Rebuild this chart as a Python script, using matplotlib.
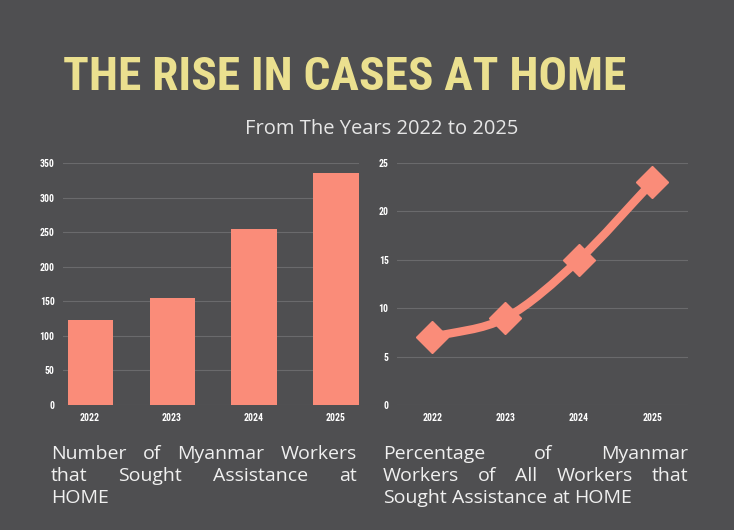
import numpy as np
import matplotlib.pyplot as plt
from matplotlib import font_manager as fm
from matplotlib.path import Path
from matplotlib.patches import PathPatch

# data
years = ['2022', '2023', '2024', '2025']
workers_count = [123, 155, 255, 335]
workers_pct = [7, 9, 15, 23]

bg = '#4f4f51'
salmon = '#fa8c79'
grid_c = '#6a6a6c'

# pick a condensed face for the title / ticks if one is installed
fonts = fm.fontManager.ttflist
names = {f.name for f in fonts}
narrow = None
for cand in ['Liberation Sans Narrow', 'Roboto Condensed', 'Open Sans Condensed',
             'Noto Sans Condensed', 'DejaVu Sans Condensed']:
    if cand in names:
        narrow = dict(fontfamily=cand, fontstretch='normal')
        break
if narrow is None:
    if any(f.name == 'DejaVu Sans' and 'condensed' in str(f.stretch) for f in fonts):
        narrow = dict(fontfamily='DejaVu Sans', fontstretch='condensed')
    else:
        narrow = dict(fontfamily='DejaVu Sans', fontstretch='normal')

fig = plt.figure(figsize=(7.34, 5.30), dpi=100, facecolor=bg)


def style_axes(ax, ymax, step):
    ax.set_facecolor(bg)
    for s in ax.spines.values():
        s.set_visible(False)
    ax.set_ylim(0, ymax)
    ax.set_yticks(np.arange(0, ymax + 1, step))
    ax.yaxis.grid(True, color=grid_c, linewidth=0.8)
    ax.set_axisbelow(True)
    ax.tick_params(length=0, colors='white', labelsize=7, pad=6)
    for lab in ax.get_xticklabels() + ax.get_yticklabels():
        lab.set_fontfamily(narrow['fontfamily'])
        lab.set_fontstretch(narrow['fontstretch'])
        lab.set_fontweight('bold')


# left: bar chart
ax1 = fig.add_axes([63 / 734, 1 - 405 / 530, 296 / 734, 242 / 530])
x = np.arange(len(years))
ax1.bar(x, workers_count, width=0.55, color=salmon, zorder=3)
ax1.set_xticks(x, years)
ax1.set_xlim(-0.33, 3.28)
style_axes(ax1, 350, 50)

# right: smooth line chart
ax2 = fig.add_axes([397 / 734, 1 - 405 / 530, 291 / 734, 242 / 530])
px = np.arange(len(years), dtype=float)
py = np.array(workers_pct, dtype=float)
# Catmull-Rom through the points, as cubic bezier segments
verts = [(px[0], py[0])]
codes = [Path.MOVETO]
ext_x = np.concatenate([[2 * px[0] - px[1]], px, [2 * px[-1] - px[-2]]])
ext_y = np.concatenate([[2 * py[0] - py[1]], py, [2 * py[-1] - py[-2]]])
for i in range(1, len(px)):
    p0 = np.array([ext_x[i - 1], ext_y[i - 1]])
    p1 = np.array([ext_x[i], ext_y[i]])
    p2 = np.array([ext_x[i + 1], ext_y[i + 1]])
    p3 = np.array([ext_x[i + 2], ext_y[i + 2]])
    c1 = p1 + (p2 - p0) / 6
    c2 = p2 - (p3 - p1) / 6
    verts += [tuple(c1), tuple(c2), tuple(p2)]
    codes += [Path.CURVE4] * 3
ax2.add_patch(PathPatch(Path(verts, codes), facecolor='none', edgecolor=salmon,
                        linewidth=6, capstyle='round', joinstyle='round', zorder=3))
ax2.plot(px, py, linestyle='none', marker='D', markersize=16, color=salmon, zorder=4)
ax2.set_xticks(px, years)
ax2.set_xlim(-0.48, 3.49)
style_axes(ax2, 25, 5)

# titles
title = fig.text(63 / 734, 1 - 90 / 530, 'THE RISE IN CASES AT HOME', color='#ebe08f',
                 fontsize=50, fontweight='bold', va='baseline', ha='left', **narrow)
fig.text(382 / 734, 1 - 134 / 530, 'From The Years 2022 to 2025', color='#e6e6e6',
         fontsize=14.5, fontfamily='Open Sans', va='baseline', ha='center')

fig.canvas.draw()
renderer = fig.canvas.get_renderer()
# shrink the title so it spans the same width as in the reference
tw = title.get_window_extent(renderer).width
title.set_fontsize(min(50 * 564 / tw, 58))

# justified captions
captions = [
    (51, 357, [['Number', 'of', 'Myanmar', 'Workers'],
               ['that', 'Sought', 'Assistance', 'at'],
               ['HOME']]),
    (383, 688, [['Percentage', 'of', 'Myanmar'],
                ['Workers', 'of', 'All', 'Workers', 'that'],
                ['Sought', 'Assistance', 'at', 'HOME']]),
]
cap_kw = dict(color='#f0f0f0', fontsize=14, fontfamily='Open Sans', va='baseline', ha='left')
line_y = [459, 481, 503]
for x0, x1, lines in captions:
    for li, words in enumerate(lines):
        y = 1 - line_y[li] / 530
        texts = [fig.text(0, y, w, **cap_kw) for w in words]
        widths = [t.get_window_extent(renderer).width for t in texts]
        last = li == len(lines) - 1
        if last or len(words) == 1:
            gap = 5
        else:
            gap = (x1 - x0 - sum(widths)) / (len(words) - 1)
        cur = x0
        for t, w in zip(texts, widths):
            t.set_x(cur / 734)
            cur += w + gap

fig.savefig('out.png', dpi=100, facecolor=bg)
